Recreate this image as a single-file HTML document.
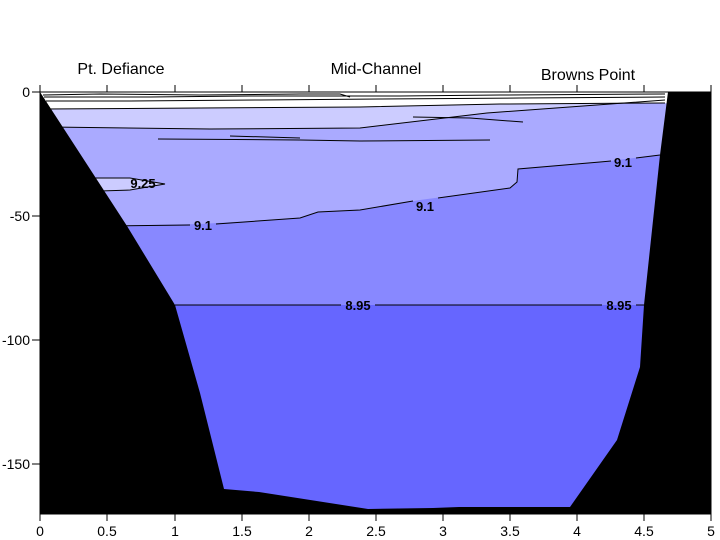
<!DOCTYPE html>
<html><head><style>
body{margin:0;background:#fff;}
svg{display:block;font-family:"Liberation Sans",Arial,sans-serif;}
</style></head><body>
<svg width="720" height="540" viewBox="0 0 720 540" xmlns="http://www.w3.org/2000/svg">
<rect width="720" height="540" fill="#fff"/>
<rect x="40" y="92" width="671" height="422" fill="#6666ff"/>
<rect x="40" y="92" width="671" height="213" fill="#8888ff"/>
<polygon fill="#aaaaff" points="40,92 711,92 711,155 660,155 600,162 518,169 517,182 510,188 420,200 360,210 318,212 300,218 200,224 100,226 40,226"/>
<polygon fill="#ccccff" points="40,92 711,92 711,100 660,100 487,113 360,128 210,129 60,127 40,127"/>
<polygon fill="#ffffff" points="40,92 711,92 711,103 500,104 360,107 200,108 40,109"/>
<polygon fill="#ccccff" stroke="#000" stroke-width="1" points="95,178 130,178 165,184 130,190 100,191"/>
<g fill="none" stroke="#000" stroke-width="1">
<polyline points="100,226 190,225"/>
<polyline points="216,224 300,218 318,212 360,210 413,201"/>
<polyline points="438,198 510,188 517,182 518,169 600,162 611,161"/>
<polyline points="636,158 660,155"/>
<line x1="175" y1="305" x2="341" y2="305"/>
<line x1="375" y1="305" x2="602" y2="305"/>
<line x1="636" y1="305" x2="644" y2="305"/>
<polyline points="50,127 210,129 360,128 487,113 665,100"/>
<polyline points="45,109 200,108 360,107 500,104 665,103"/>
<polyline points="43,95 100,94 200,95 300,94 340,94 350,97"/>
<polyline points="44,97 150,97 250,96 400,96 500,95 665,94"/>
<polyline points="46,101 130,101 260,100 380,99 520,98 665,97"/>
<polyline points="158,139 300,140 360,141 490,140"/>
<polyline points="230,136 300,138"/>
<polyline points="413,117 470,118 523,122"/>
</g>
<polygon fill="#000" points="40,92 127,226 175,305 200,393 224,489 259,492 368,509 433,508 459,507 570,507 617,440 640,367 644,305 660,155 668,92 711,92 711,514 40,514"/>
<g font-size="13" font-weight="bold" fill="#000" text-anchor="middle">
<text x="143" y="188">9.25</text>
<text x="203" y="230">9.1</text>
<text x="425" y="211">9.1</text>
<text x="623" y="167">9.1</text>
<text x="358" y="310">8.95</text>
<text x="619" y="310">8.95</text>
</g>
<g stroke="#000" stroke-width="1" fill="none">
<rect x="40" y="92" width="671" height="422"/>
<path d="M40,92v-7M107,92v-7M175,92v-7M242,92v-7M309,92v-7M376,92v-7M443,92v-7M510,92v-7M577,92v-7M644,92v-7M711,92v-7"/>
<path d="M40,514v7M107,514v7M175,514v7M242,514v7M309,514v7M376,514v7M443,514v7M510,514v7M577,514v7M644,514v7M711,514v7"/>
<path d="M32,92h8M32,216h8M32,340h8M32,464h8M711,216h-8M711,340h-8M711,464h-8"/>
</g>
<g font-size="14" fill="#000" text-anchor="middle">
<text x="40" y="536">0</text><text x="107" y="536">0.5</text><text x="175" y="536">1</text>
<text x="242" y="536">1.5</text><text x="309" y="536">2</text><text x="376" y="536">2.5</text>
<text x="443" y="536">3</text><text x="510" y="536">3.5</text><text x="577" y="536">4</text>
<text x="644" y="536">4.5</text><text x="711" y="536">5</text>
</g>
<g font-size="14" fill="#000" text-anchor="end">
<text x="30" y="97">0</text><text x="30" y="221">-50</text>
<text x="30" y="345">-100</text><text x="30" y="469">-150</text>
</g>
<g font-size="16" fill="#000" text-anchor="middle">
<text x="121" y="74">Pt. Defiance</text>
<text x="376" y="74">Mid-Channel</text>
<text x="588" y="80">Browns Point</text>
</g>
</svg>
</body></html>
